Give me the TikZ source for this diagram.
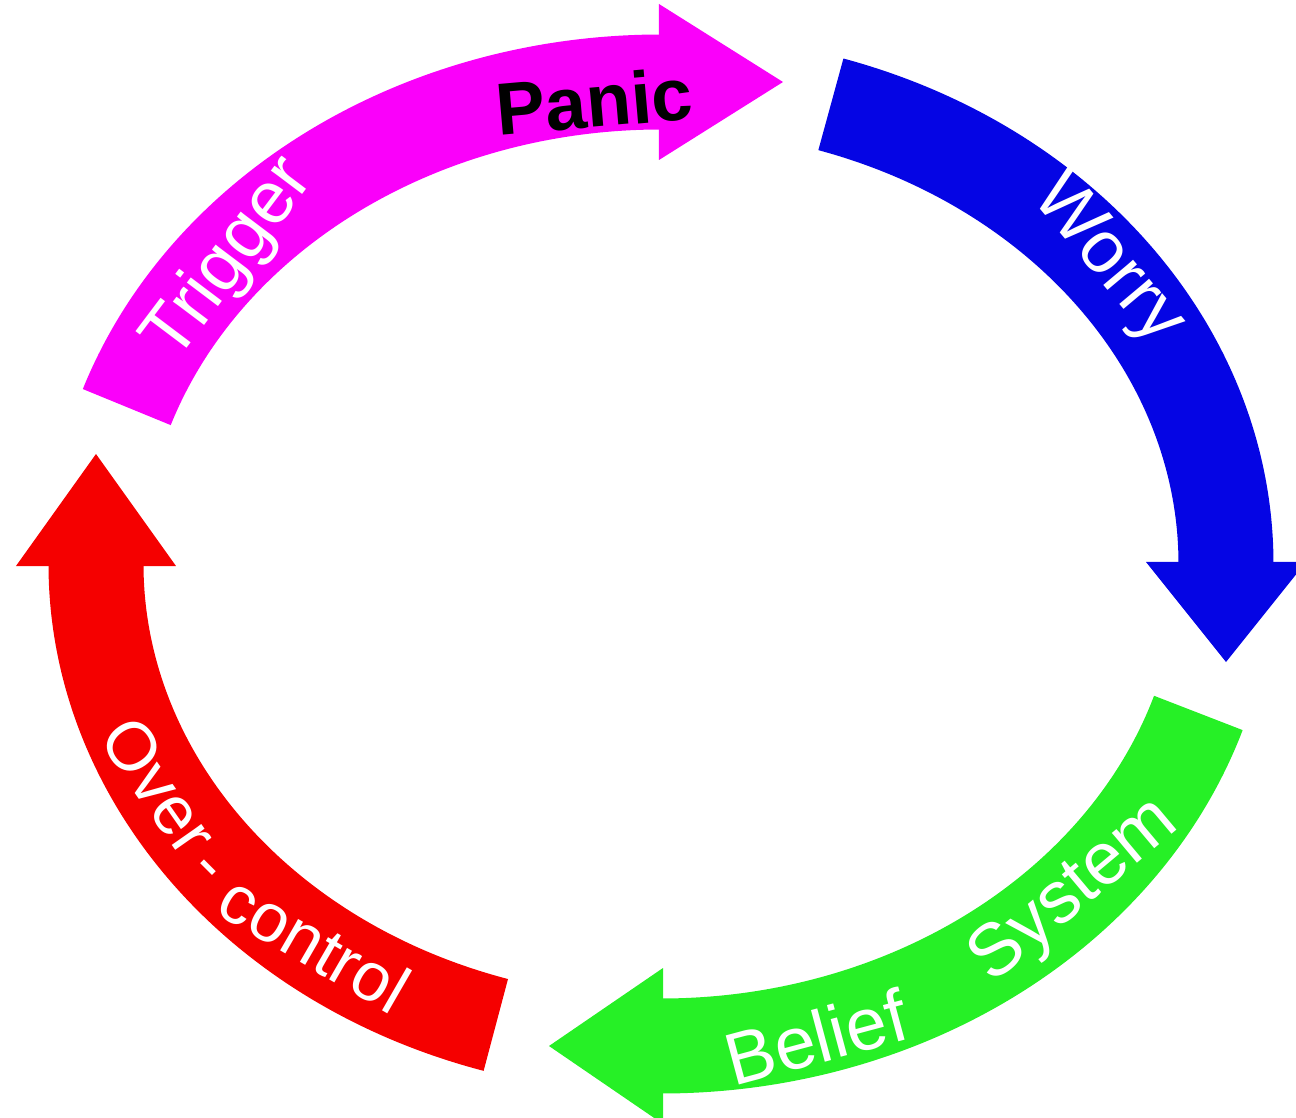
\documentclass[tikz,border=0pt]{standalone}
\usepackage{fontspec}
\setmainfont{Liberation Sans}
\definecolor{trigcol}{RGB}{250,0,250}
\definecolor{worrycol}{RGB}{5,5,228}
\definecolor{beliefcol}{RGB}{38,240,38}
\definecolor{overcol}{RGB}{245,0,0}

\begin{document}
\begin{tikzpicture}[
  band/.style={line width=9.5mm},
  loop/.style={x radius=5.65, y radius=4.82},
  lbl/.style={text=white, inner sep=0pt, font=\fontsize{21}{25}\selectfont},
  small lbl/.style={lbl, font=\fontsize{19.5}{23}\selectfont}
]
\useasboundingbox (-6.61,-5.53) rectangle (6.35,5.64);

\coordinate (top) at (90:5.65 and 4.82);
\coordinate (right) at (0:5.65 and 4.82);
\coordinate (bottom) at (-90:5.65 and 4.82);
\coordinate (left) at (180:5.65 and 4.82);

% the four arrows of the loop
\draw[band, trigcol] (161:5.65 and 4.82) arc[loop, start angle=161, end angle=90];
\fill[trigcol] (top) ++(-0.02,0.78) -- ++(1.24,-0.78) -- ++(-1.24,-0.78) -- cycle;

\draw[band, worrycol] (72.5:5.65 and 4.82) arc[loop, start angle=72.5, end angle=0];
\fill[worrycol] (right) ++(0.8,0.02) -- ++(-0.8,-1.0) -- ++(-0.8,1.0) -- cycle;

\draw[band, beliefcol] (-18:5.65 and 4.82) arc[loop, start angle=-18, end angle=-90];
\fill[beliefcol] (bottom) ++(0.02,0.78) -- ++(-1.14,-0.78) -- ++(1.14,-0.78) -- cycle;

\draw[band, overcol] (-107:5.65 and 4.82) arc[loop, start angle=-107, end angle=-180];
\fill[overcol] (left) ++(-0.8,-0.02) -- ++(0.8,1.12) -- ++(0.8,-1.12) -- cycle;

% labels
\node[lbl, rotate=53] (trigger) at (-4.31,3.04) {Trigger};
\node[lbl, rotate=5, text=black, font=\fontsize{21}{25}\selectfont\bfseries] (panic) at (-0.67,4.63) {Panic};
\node[lbl, rotate=-50] (worry) at (4.46,3.03) {Worry};
\node[lbl, rotate=15] (belief) at (1.55,-4.73) {Belief};
\node[lbl, rotate=40] (system) at (4.14,-3.28) {System};
\node[small lbl, rotate=-55] (over) at (-5.02,-2.22) {Over};
\node[small lbl, rotate=-45] (hyphen) at (-4.58,-3.09) {-};
\node[small lbl, rotate=-30] (control) at (-3.46,-3.79) {control};
\end{tikzpicture}
\end{document}
